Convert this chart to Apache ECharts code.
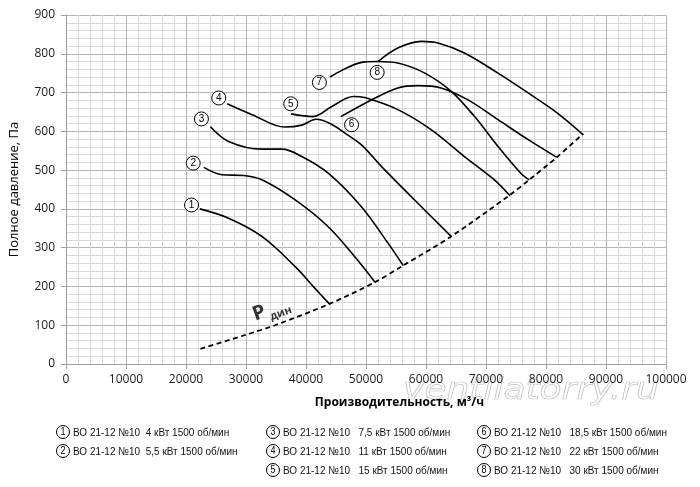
<!DOCTYPE html>
<html>
<head>
<meta charset="utf-8">
<style>
  html, body { margin: 0; padding: 0; background: #fff; }
  #chart { width: 700px; height: 487px; }
</style>
</head>
<body>
<div id="chart"></div>
<script src="https://cdn.jsdelivr.net/npm/echarts@6.0.0/dist/echarts.min.js"></script>
<script>
// fan curves: [flow m3/h, total pressure Pa]
const curve1 = [[22300, 400], [27100, 376], [32650, 329], [38200, 251], [41500, 195], [43900, 155]];
const curve2 = [[22970, 507], [26000, 488], [29600, 486], [32650, 475], [38200, 423], [43700, 354], [48100, 277], [51500, 211]];
const curve3 = [[24070, 612], [27100, 574], [32650, 554], [36000, 554], [39300, 535], [43700, 492], [49200, 406], [53700, 311], [56200, 254]];
const curve4 = [[26850, 671], [31000, 643], [36500, 611], [39300, 616], [41700, 631], [44000, 620], [47000, 590], [49250, 565], [52600, 509], [58100, 423], [64200, 329]];
const curve5 = [[37500, 645], [41200, 638], [44300, 664], [47900, 690], [49800, 687], [55300, 656], [60900, 604], [66400, 535], [71400, 475], [74000, 434]];
const curve6 = [[45800, 638], [50900, 681], [55300, 712], [58700, 718], [62500, 712], [67000, 681], [72000, 630], [77500, 574], [81800, 533]];
const curve7 = [[44000, 740], [49800, 779], [52000, 780], [55300, 776], [59800, 750], [64200, 703], [68100, 638], [72000, 561], [75800, 492], [77200, 475]];
const curve8 = [[52000, 780], [55300, 815], [59200, 832], [62000, 828], [66400, 802], [72000, 750], [77500, 694], [81900, 647], [86200, 591]];
const curves = [curve1, curve2, curve3, curve4, curve5, curve6, curve7, curve8];

// dynamic pressure line
const pDyn = [[22400, 39], [29900, 75], [34850, 100], [43900, 155], [51500, 211], [56200, 254], [64200, 329], [74000, 436], [77200, 475], [81800, 533], [86200, 594]];

// circled numbers next to the curves
const curveNums = ['1', '2', '3', '4', '5', '6', '7', '8'];
const curveNumPos = [[20920, 410], [21200, 518], [22570, 632], [25460, 686], [37460, 671], [47590, 617], [42230, 726], [51860, 752]];

const legendNames = [
  'ВО 21-12 №10  4 кВт 1500 об/мин',
  'ВО 21-12 №10  5,5 кВт 1500 об/мин',
  'ВО 21-12 №10   7,5 кВт 1500 об/мин',
  'ВО 21-12 №10   11 кВт 1500 об/мин',
  'ВО 21-12 №10   15 кВт 1500 об/мин',
  'ВО 21-12 №10   18,5 кВт 1500 об/мин',
  'ВО 21-12 №10   22 кВт 1500 об/мин',
  'ВО 21-12 №10   30 кВт 1500 об/мин'
];

const xName = 'Производительность, м³/ч';
const yName = 'Полное давление, Па';
const pDynMark = [[34300, 137]];

// legend layout (pixels)
const legendSlots = [[63, 432], [63, 451], [273, 432], [273, 451], [273, 470], [484, 432], [484, 451], [484, 470]];

const legendGraphic = [];
legendNames.forEach((name, i) => {
  const [cx, cy] = legendSlots[i];
  legendGraphic.push({
    type: 'circle', shape: { cx: cx, cy: cy, r: 6.5 },
    style: { fill: '#fff', stroke: '#000', lineWidth: 1 }
  });
  legendGraphic.push({
    type: 'text', x: cx, y: cy + 0.5, scaleX: 0.9,
    style: { text: curveNums[i], x: 0, y: 0, font: '10px "Liberation Sans", sans-serif', fill: '#000',
      textAlign: 'center', textVerticalAlign: 'middle', align: 'center', verticalAlign: 'middle' }
  });
  legendGraphic.push({
    type: 'text', x: cx + 10, y: cy + 0.5, scaleX: 0.87,
    style: { text: name, x: 0, y: 0, font: '11.5px "Liberation Sans", sans-serif', fill: '#111',
      textAlign: 'left', textVerticalAlign: 'middle', align: 'left', verticalAlign: 'middle' }
  });
});

const chart = echarts.init(document.getElementById('chart'));

const lineSeries = curves.map((c, i) => ({
  name: 'curve' + (i + 1),
  type: 'line',
  data: c,
  smooth: 0.35,
  symbol: 'none',
  lineStyle: { color: '#000', width: 1.6 },
  z: 3
}));

chart.setOption({
  animation: false,
  grid: { left: 63, right: 34, top: 15, bottom: 123 },
  xAxis: {
    type: 'value', min: 0, max: 100000, interval: 10000,
    name: xName, nameLocation: 'middle', nameGap: 33,
    nameTextStyle: { fontFamily: 'Open Sans', fontWeight: 'bold', fontSize: 12, color: '#000', padding: [0, 0, 0, 67] },
    axisLine: { lineStyle: { color: '#a0a0a0' } },
    axisTick: { show: true, length: 5, lineStyle: { color: '#a0a0a0' } },
    axisLabel: { fontFamily: 'Open Sans', fontSize: 12, color: '#1a1a1a', margin: 10, formatter: v => String(v) },
    splitLine: { show: true, lineStyle: { color: '#b4b4b4', width: 1 } },
    minorTick: { show: false, splitNumber: 5 },
    minorSplitLine: { show: true, lineStyle: { color: '#d9d9d9', width: 1 } }
  },
  yAxis: {
    type: 'value', min: 0, max: 900, interval: 100,
    name: yName, nameLocation: 'middle', nameGap: 45, nameRotate: 90,
    nameTextStyle: { fontFamily: 'Open Sans', fontSize: 13, color: '#000' },
    axisLine: { show: true, lineStyle: { color: '#a0a0a0' } },
    axisTick: { show: true, length: 5, lineStyle: { color: '#a0a0a0' } },
    axisLabel: { fontFamily: 'Open Sans', fontSize: 12, color: '#1a1a1a', margin: 11 },
    splitLine: { show: true, lineStyle: { color: '#b4b4b4', width: 1 } },
    minorTick: { show: false, splitNumber: 5 },
    minorSplitLine: { show: true, lineStyle: { color: '#d9d9d9', width: 1 } }
  },
  graphic: [
    {
      type: 'text', x: 403, y: 391, scaleX: 1.2, z: -1,
      style: { text: 'ventilatorry.ru', x: 0, y: 0, font: 'italic 30px "DejaVu Sans", sans-serif',
        fill: 'rgba(255,255,255,0)', stroke: '#c4c4c4', lineWidth: 0.7,
        textAlign: 'left', textVerticalAlign: 'middle', align: 'left', verticalAlign: 'middle' }
    }
  ].concat(legendGraphic),
  series: lineSeries.concat([
    {
      name: 'Pдин', type: 'line', data: pDyn, smooth: 0.3, symbol: 'none',
      lineStyle: { color: '#000', width: 1.8, type: [5, 3.5] }, z: 3
    },
    {
      type: 'scatter', z: 5,
      data: curveNumPos.map((p, i) => ({ value: p, name: curveNums[i] })),
      symbol: 'circle', symbolSize: 14,
      itemStyle: { color: '#fff', borderColor: '#000', borderWidth: 1, opacity: 1 },
      label: { show: true, position: 'inside', formatter: '{b}', color: '#000',
        fontFamily: 'Liberation Sans', fontSize: 10 }
    },
    {
      type: 'scatter', z: 5, data: pDynMark, symbolSize: 0, silent: true,
      label: {
        show: true, position: 'inside', rotate: 20, formatter: '{p|P}{s|дин}',
        rich: {
          p: { fontFamily: 'Open Sans', fontWeight: 'bold', fontSize: 20, color: '#000', verticalAlign: 'top', lineHeight: 24 },
          s: { fontFamily: 'Open Sans', fontWeight: 'bold', fontSize: 11, color: '#000', verticalAlign: 'top', padding: [12, 0, 0, 3] }
        }
      }
    }
  ])
});

window.addEventListener('resize', () => chart.resize());
</script>
</body>
</html>
